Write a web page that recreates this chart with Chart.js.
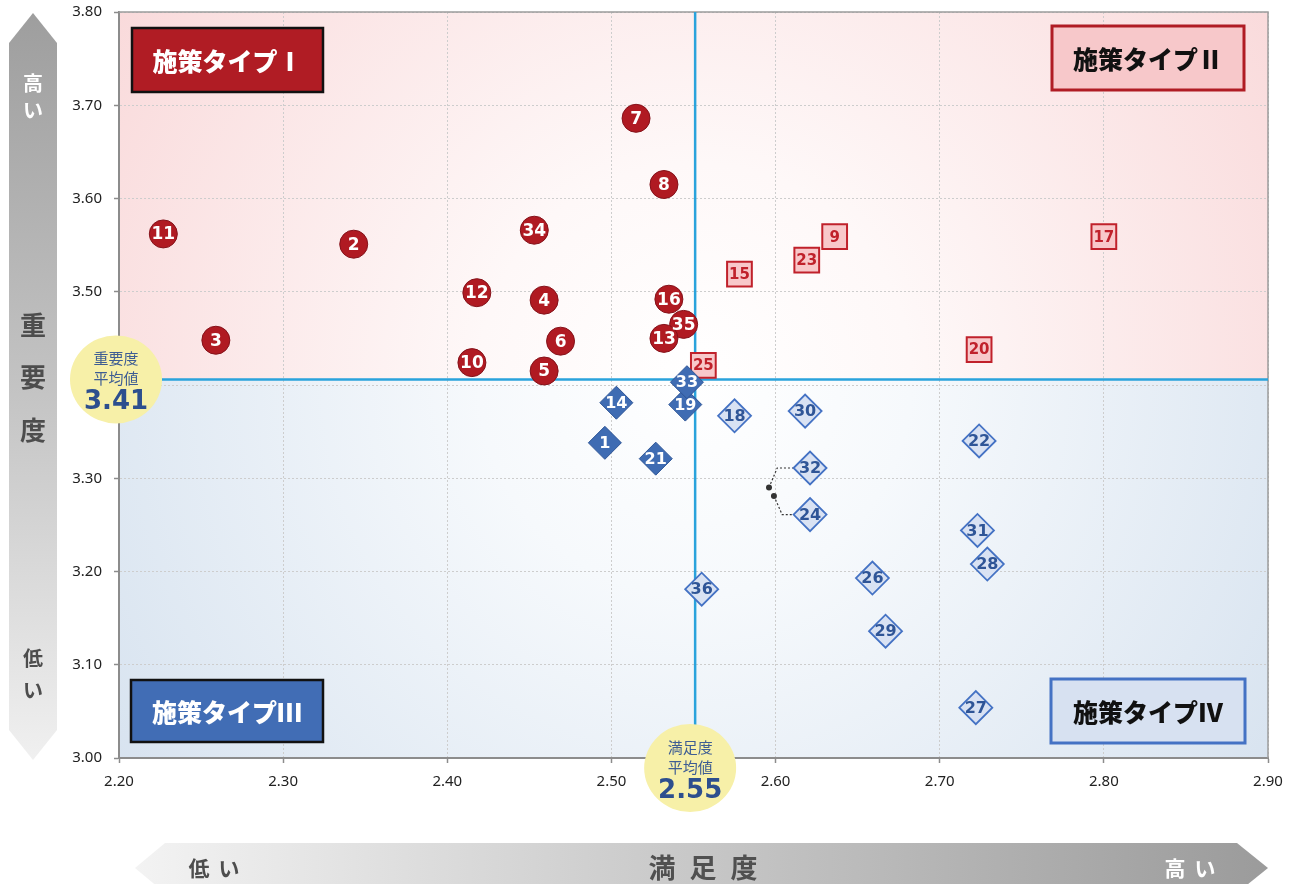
<!DOCTYPE html>
<html lang="ja">
<head>
<meta charset="UTF-8">
<title>重要度・満足度 散布図</title>
<script src="https://cdn.jsdelivr.net/npm/chart.js"></script>
<style>
    body{
        margin:0;
        padding:0;
        background:#fff;
    }
    canvas{display:block;}
</style>
</head>
<body>
<canvas id="matrix" width="1296" height="884"></canvas>

<script>
/* ==== データ（x:満足度, y:重要度） ==== */
// 施策タイプⅠ（赤丸）
const typeINo  = [11, 2, 3, 34, 12, 4, 10, 5, 6, 7, 8, 16, 35, 13];
const typeISat = [2.227, 2.343, 2.259, 2.453, 2.418, 2.459, 2.415, 2.459, 2.469, 2.515, 2.532, 2.535, 2.544, 2.532];
const typeIImp = [3.562, 3.551, 3.448, 3.566, 3.499, 3.491, 3.424, 3.415, 3.447, 3.686, 3.615, 3.492, 3.465, 3.450];

// 施策タイプⅡ（四角）
const typeIINo  = [15, 23, 9, 17, 20, 25];
const typeIISat = [2.578, 2.619, 2.636, 2.800, 2.724, 2.556];
const typeIIImp = [3.519, 3.534, 3.559, 3.559, 3.438, 3.421];

// 施策タイプⅢ（青ひし形）
const typeIIINo  = [14, 1, 21, 19, 33];
const typeIIISat = [2.503, 2.496, 2.527, 2.545, 2.546];
const typeIIIImp = [3.381, 3.338, 3.321, 3.379, 3.403];

// 施策タイプⅣ（薄青ひし形）
const typeIVNo  = [18, 30, 32, 24, 36, 26, 29, 22, 31, 28, 27];
const typeIVSat = [2.575, 2.618, 2.621, 2.621, 2.555, 2.659, 2.667, 2.724, 2.723, 2.729, 2.722];
const typeIVImp = [3.367, 3.372, 3.311, 3.261, 3.181, 3.193, 3.136, 3.340, 3.244, 3.208, 3.054];

// 32・24 の引き出し線（実際の位置 → ラベル）
const lead32Sat = [2.596, 2.601, 2.612];
const lead32Imp = [3.290, 3.311, 3.311];
const lead24Sat = [2.599, 2.604, 2.611];
const lead24Imp = [3.281, 3.261, 3.261];

// 平均値
const satMean = 2.551, satMeanLabel = '2.55';
const impMean = 3.406, impMeanLabel = '3.41';

// 目盛り
const satTicks = [2.2, 2.3, 2.4, 2.5, 2.6, 2.7, 2.8, 2.9];
const impTicks = [3.0, 3.1, 3.2, 3.3, 3.4, 3.5, 3.6, 3.7, 3.8];

const quadNames = ['施策タイプⅠ', '施策タイプⅡ', '施策タイプⅢ', '施策タイプⅣ'];

const JP  = '"Noto Sans CJK JP", "Noto Sans", sans-serif';
const NUM = '"DejaVu Sans", sans-serif';
const TICKF = '"Noto Sans", sans-serif';

const pts = (xs, ys) => xs.map((v, i) => ({x: v, y: ys[i]}));

/* ==== 背景（象限グラデーション） ==== */
const quadBg = {
    id: 'quadBg',
    beforeDraw(chart) {
        const {ctx, chartArea: a, scales: {x, y}} = chart;
        const cx = x.getPixelForValue(satMean), cy = y.getPixelForValue(impMean);
        const R = 720;
        const up = ctx.createRadialGradient(cx, cy, 0, cx, cy, R);
        up.addColorStop(0, '#ffffff');
        up.addColorStop(0.3, '#fef8f8');
        up.addColorStop(1, '#f9d8d9');
        const lo = ctx.createRadialGradient(cx, cy, 0, cx, cy, R);
        lo.addColorStop(0, '#ffffff');
        lo.addColorStop(0.3, '#f6f9fc');
        lo.addColorStop(1, '#d6e2ef');
        ctx.save();
        ctx.fillStyle = up;
        ctx.fillRect(a.left, a.top, a.width, cy - a.top);
        ctx.fillStyle = lo;
        ctx.fillRect(a.left, cy, a.width, a.bottom - cy);
        ctx.restore();
    }
};

/* ==== 平均線・枠線 ==== */
const meanLines = {
    id: 'meanLines',
    beforeDatasetsDraw(chart) {
        const {ctx, chartArea: a, scales: {x, y}} = chart;
        const mx = x.getPixelForValue(satMean), my = y.getPixelForValue(impMean);
        ctx.save();
        // 上・右の枠
        ctx.strokeStyle = '#9c9c9c';
        ctx.lineWidth = 1.5;
        ctx.beginPath();
        ctx.moveTo(a.left, a.top);
        ctx.lineTo(a.right, a.top);
        ctx.lineTo(a.right, a.bottom);
        ctx.stroke();
        // 平均線
        ctx.strokeStyle = '#2aa3dc';
        ctx.lineWidth = 2.5;
        ctx.beginPath();
        ctx.moveTo(a.left, my); ctx.lineTo(a.right, my);
        ctx.moveTo(mx, a.top); ctx.lineTo(mx, a.bottom);
        ctx.stroke();
        ctx.restore();
    }
};

/* ==== 番号ラベル ==== */
const numLabels = {
    id: 'numLabels',
    afterDatasetDraw(chart, args) {
        const ds = chart.data.datasets[args.index];
        if (!ds.nos) return;
        const ctx = chart.ctx;
        ctx.save();
        ctx.font = ds.numFont;
        ctx.fillStyle = ds.numColor;
        ctx.textAlign = 'center';
        ctx.textBaseline = 'middle';
        args.meta.data.forEach((p, i) => {
            ctx.fillText(String(ds.nos[i]), p.x, p.y + 1);
        });
        ctx.restore();
    }
};

/* ==== 装飾（平均値バッジ・象限名・矢印） ==== */
const decor = {
    id: 'decor',
    afterDraw(chart) {
        const {ctx, chartArea: a, scales: {x, y}} = chart;
        const mx = x.getPixelForValue(satMean), my = y.getPixelForValue(impMean);
        ctx.save();
        ctx.textAlign = 'center';
        ctx.textBaseline = 'middle';

        // 平均値バッジ
        const badge = (cx, cy, l1, l2, val) => {
            ctx.fillStyle = '#f7f0a8';
            ctx.beginPath();
            ctx.ellipse(cx, cy, 46, 44, 0, 0, Math.PI * 2);
            ctx.fill();
            ctx.fillStyle = '#3e5d93';
            ctx.font = '15px ' + JP;
            ctx.fillText(l1, cx, cy - 21);
            ctx.fillText(l2, cx, cy - 1);
            ctx.fillStyle = '#2d4f8e';
            ctx.font = 'bold 26px ' + NUM;
            ctx.fillText(val, cx, cy + 23);
        };
        badge(a.left - 3, my, '重要度', '平均値', impMeanLabel);
        badge(mx - 5, a.bottom + 10, '満足度', '平均値', satMeanLabel);

        // 象限名
        const box = (bx, by, w, h, fill, stroke, lw, color, txt) => {
            ctx.fillStyle = fill;
            ctx.fillRect(bx, by, w, h);
            ctx.strokeStyle = stroke;
            ctx.lineWidth = lw;
            ctx.strokeRect(bx, by, w, h);
            ctx.fillStyle = color;
            ctx.font = '900 25px ' + JP;
            ctx.fillText(txt, bx + w / 2, by + h / 2 + 1);
        };
        box(a.left + 13, a.top + 16, 191, 64, '#b01c24', '#111', 2.5, '#fff', quadNames[0]);
        box(a.right - 216, a.top + 14, 192, 64, '#f7c8ca', '#b01c24', 3, '#111', quadNames[1]);
        box(a.left + 12, a.bottom - 78, 192, 62, '#416db5', '#111', 2.5, '#fff', quadNames[2]);
        box(a.right - 217, a.bottom - 79, 194, 64, '#d7e1f1', '#4472c4', 3, '#111', quadNames[3]);

        // 縦矢印（重要度）
        let g = ctx.createLinearGradient(0, 13, 0, 760);
        g.addColorStop(0, '#9e9e9e');
        g.addColorStop(0.5, '#c3c3c3');
        g.addColorStop(1, '#f0f0f0');
        ctx.fillStyle = g;
        ctx.beginPath();
        ctx.moveTo(33, 13); ctx.lineTo(57, 43); ctx.lineTo(57, 730);
        ctx.lineTo(33, 760); ctx.lineTo(9, 730); ctx.lineTo(9, 43);
        ctx.closePath();
        ctx.fill();

        ctx.font = 'bold 20px ' + JP;
        ctx.fillStyle = '#fff';
        ctx.fillText('高', 33, 83);
        ctx.fillText('い', 33, 110);
        ctx.fillStyle = '#4d4d4d';
        ctx.fillText('低', 33, 658);
        ctx.fillText('い', 33, 690);
        ctx.font = 'bold 26px ' + JP;
        ctx.fillText('重', 33, 325);
        ctx.fillText('要', 33, 377);
        ctx.fillText('度', 33, 430);

        // 横矢印（満足度）
        g = ctx.createLinearGradient(135, 0, 1268, 0);
        g.addColorStop(0, '#f3f3f3');
        g.addColorStop(1, '#9b9b9b');
        ctx.fillStyle = g;
        ctx.beginPath();
        ctx.moveTo(135, 868); ctx.lineTo(165, 843); ctx.lineTo(1237, 843);
        ctx.lineTo(1268, 868); ctx.lineTo(1237, 893); ctx.lineTo(165, 893);
        ctx.closePath();
        ctx.fill();

        ctx.font = 'bold 21px ' + JP;
        ctx.fillStyle = '#4d4d4d';
        ctx.fillText('低', 199, 868);
        ctx.fillText('い', 229, 868);
        ctx.fillStyle = '#fff';
        ctx.fillText('高', 1175, 868);
        ctx.fillText('い', 1205, 868);
        ctx.font = 'bold 27px ' + JP;
        ctx.fillStyle = '#505050';
        ctx.fillText('満', 662, 868);
        ctx.fillText('足', 703, 868);
        ctx.fillText('度', 744, 868);
        ctx.restore();
    }
};

const axisCommon = {
    border: {color: '#8c8c8c', width: 2, dash: [2, 2]},
    grid: {color: '#cdcdcd', lineWidth: 1, tickColor: '#8c8c8c', tickWidth: 1.5, tickLength: 5, tickBorderDash: []},
};

new Chart(document.getElementById('matrix'), {
    type: 'scatter',
    data: {
        datasets: [
            {
                label: 'タイプⅢ', order: 0,
                data: pts(typeIIISat, typeIIIImp), nos: typeIIINo,
                pointStyle: 'rectRot', pointRadius: 16.5,
                backgroundColor: '#3f6cb3', borderColor: '#2d5597', borderWidth: 1,
                numFont: 'bold 16px ' + NUM, numColor: '#fff'
            },
            {
                label: 'タイプⅠ', order: 1,
                data: pts(typeISat, typeIImp), nos: typeINo,
                pointStyle: 'circle', pointRadius: 14,
                backgroundColor: '#b01a22', borderColor: '#85121a', borderWidth: 1,
                numFont: 'bold 17px ' + NUM, numColor: '#fff'
            },
            {
                label: 'タイプⅡ', order: 2,
                data: pts(typeIISat, typeIIImp), nos: typeIINo,
                pointStyle: 'rect', pointRadius: 17.5,
                backgroundColor: '#f8c8ca', borderColor: '#c0212b', borderWidth: 2,
                numFont: 'bold 15px ' + NUM, numColor: '#c0212b'
            },
            {
                label: 'タイプⅣ', order: 3,
                data: pts(typeIVSat, typeIVImp), nos: typeIVNo,
                pointStyle: 'rectRot', pointRadius: 16.5,
                backgroundColor: '#d9e2f3', borderColor: '#4472c4', borderWidth: 1.8,
                numFont: 'bold 16px ' + NUM, numColor: '#2f5597'
            },
            {
                label: '32', order: 4,
                data: pts(lead32Sat, lead32Imp), showLine: true,
                borderColor: '#333', borderWidth: 1.2, borderDash: [2, 2],
                pointRadius: [3, 0, 0], pointBackgroundColor: '#333', pointBorderWidth: 0
            },
            {
                label: '24', order: 4,
                data: pts(lead24Sat, lead24Imp), showLine: true,
                borderColor: '#333', borderWidth: 1.2, borderDash: [2, 2],
                pointRadius: [3, 0, 0], pointBackgroundColor: '#333', pointBorderWidth: 0
            }
        ]
    },
    options: {
        responsive: false,
        animation: false,
        layout: {autoPadding: false, padding: {top: 12, right: 28, left: 0, bottom: 0}},
        plugins: {
            legend: {display: false},
            tooltip: {enabled: false}
        },
        scales: {
            x: {
                ...axisCommon,
                min: 2.2, max: 2.9,
                afterBuildTicks: s => { s.ticks = satTicks.map(v => ({value: v})); },
                afterFit: s => { s.height = 126; s.paddingLeft = 0; s.paddingRight = 0; },
                ticks: {
                    color: '#222', padding: 10,
                    font: {family: TICKF, size: 15},
                    callback: v => Number(v).toFixed(2)
                }
            },
            y: {
                ...axisCommon,
                min: 3.0, max: 3.8,
                afterBuildTicks: s => { s.ticks = impTicks.map(v => ({value: v})); },
                afterFit: s => { s.width = 119; s.paddingTop = 0; s.paddingBottom = 0; },
                ticks: {
                    color: '#222', padding: 12,
                    font: {family: TICKF, size: 15},
                    callback: v => Number(v).toFixed(2)
                }
            }
        }
    },
    plugins: [quadBg, meanLines, numLabels, decor]
});
</script>
</body>
</html>
